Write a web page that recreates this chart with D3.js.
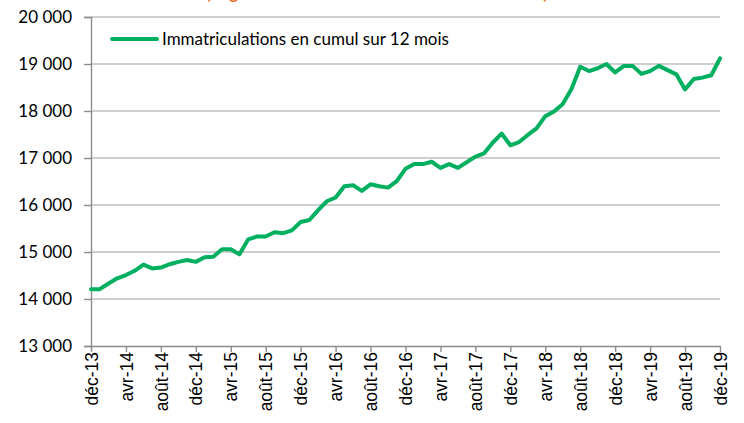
<!DOCTYPE html>
<html>
<head>
<meta charset="utf-8">
<script src="https://cdn.jsdelivr.net/npm/d3@7"></script>
<style>
  html, body { margin: 0; padding: 0; background: #fff; }
  svg { display: block; }
</style>
</head>
<body>
<svg id="chart" width="744" height="423"></svg>
<script>
// ---- Data ----
const monthNames = ["janv", "févr", "mars", "avr", "mai", "juin", "juil", "août", "sept", "oct", "nov", "déc"];
const categories = ["déc-13"];
for (let yy = 14; yy <= 19; yy++) {
  for (let m = 0; m < 12; m++) categories.push(monthNames[m] + "-" + yy);
}
const seriesName = "Immatriculations en cumul sur 12 mois";
const values = [
  14210, 14210, 14330, 14440, 14510, 14600, 14730, 14650, 14670, 14740,
  14790, 14830, 14790, 14890, 14900, 15060, 15060, 14950, 15270, 15330,
  15330, 15420, 15400, 15460, 15640, 15680, 15890, 16080, 16160, 16400,
  16420, 16300, 16440, 16400, 16370, 16510, 16770, 16870, 16870, 16920,
  16790, 16870, 16790, 16910, 17030, 17100, 17330, 17520, 17270, 17340,
  17490, 17630, 17890, 17990, 18150, 18470, 18940, 18850, 18910, 19000,
  18820, 18960, 18960, 18790, 18850, 18960, 18870, 18780, 18460, 18680,
  18710, 18760, 19120
];
const xTickLabels = ["déc-13", "avr-14", "août-14", "déc-14", "avr-15", "août-15", "déc-15",
  "avr-16", "août-16", "déc-16", "avr-17", "août-17", "déc-17", "avr-18", "août-18",
  "déc-18", "avr-19", "août-19", "déc-19"];
const yTicks = [13000, 14000, 15000, 16000, 17000, 18000, 19000, 20000];
const titleText = "(en glissement annuel des immatriculations neuves)";

// ---- Layout ----
const svg = d3.select("#chart");
const mLeft = 91, mRight = 720, mTop = 17, mBottom = 346;

const x = d3.scalePoint().domain(categories).range([mLeft, mRight]);
const y = d3.scaleLinear().domain([13000, 20000]).range([mBottom, mTop]);

// Title (cropped at the top in the reference)
svg.append("text")
  .attr("x", 206).attr("y", -1)
  .attr("textLength", 342).attr("lengthAdjust", "spacing")
  .attr("font-family", "Lato, sans-serif").attr("font-weight", "bold")
  .attr("font-size", 17).attr("fill", "#F26B21")
  .text(titleText);

// Gridlines
svg.append("g").selectAll("line")
  .data(yTicks.filter(d => d > 13000))
  .join("line")
  .attr("x1", mLeft).attr("x2", mRight)
  .attr("y1", d => y(d)).attr("y2", d => y(d))
  .attr("stroke", "#BFBFBF").attr("stroke-width", 1.4);

// Y axis
const yAxis = svg.append("g")
  .attr("transform", `translate(${mLeft},0)`)
  .call(d3.axisLeft(y).tickValues(yTicks).tickSize(7).tickPadding(12)
    .tickFormat(d => d3.format(",")(d).replace(",", " ")));
yAxis.select(".domain").attr("stroke", "#8C8C8C").attr("stroke-width", 1.4);
yAxis.selectAll(".tick line").attr("stroke", "#8C8C8C").attr("stroke-width", 1.4);
yAxis.selectAll("text")
  .attr("font-family", "Lato, sans-serif").attr("font-size", 17).attr("fill", "#000");

// X axis
const xAxis = svg.append("g")
  .attr("transform", `translate(0,${mBottom})`)
  .call(d3.axisBottom(x).tickValues(xTickLabels).tickSize(6).tickSizeOuter(0));
xAxis.select(".domain").attr("stroke", "#8C8C8C").attr("stroke-width", 1.4);
xAxis.selectAll(".tick line").attr("stroke", "#8C8C8C").attr("stroke-width", 1.4);
xAxis.selectAll("text")
  .attr("font-family", "'Liberation Sans', Arial, sans-serif").attr("font-size", 17.5)
  .attr("fill", "#000")
  .attr("transform", "rotate(-90)")
  .attr("text-anchor", "end")
  .attr("x", -6).attr("y", 0).attr("dy", "0.35em");

// Line
const line = d3.line()
  .x((d, i) => x(categories[i]))
  .y(d => y(d));
svg.append("path")
  .datum(values)
  .attr("d", line)
  .attr("fill", "none")
  .attr("stroke", "#00B060")
  .attr("stroke-width", 4)
  .attr("stroke-linejoin", "round")
  .attr("stroke-linecap", "round");

// Legend
const lg = svg.append("g");
lg.append("line")
  .attr("x1", 112).attr("x2", 157).attr("y1", 39).attr("y2", 39)
  .attr("stroke", "#00B060").attr("stroke-width", 4).attr("stroke-linecap", "round");
lg.append("text")
  .attr("x", 162).attr("y", 39).attr("dy", "0.35em")
  .attr("font-family", "Lato, sans-serif").attr("font-size", 17).attr("fill", "#000")
  .text(seriesName);
</script>
</body>
</html>
